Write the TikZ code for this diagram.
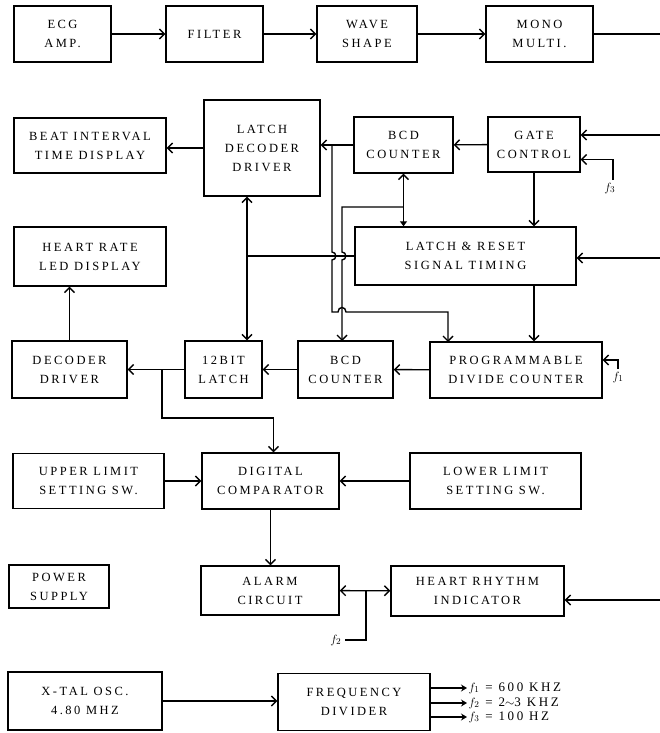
\documentclass[tikz,border=0pt]{standalone}
\usepackage{fontspec}
\newfontfamily\boxfont[LetterSpace=20]{Liberation Serif}
\usetikzlibrary{arrows.meta,positioning}

\begin{document}
\begin{tikzpicture}[x=1pt,y=-1pt,line width=1.4pt,
	blk/.style={draw,align=center,inner sep=0pt,font=\boxfont\fontsize{12.5}{19}\selectfont},
	lbl/.style={inner sep=1pt,font=\boxfont\fontsize{13}{15}\selectfont},
	>={Straight Barb[length=5pt,width=10pt]}]
%
	\useasboundingbox (0,0) rectangle (660,733);
	% row 1
	\node[blk,minimum width=97pt,minimum height=56pt] (ecg) at (62.5,34) {ECG\\AMP.};
	\node[blk,minimum width=97pt,minimum height=56pt] (filter) at (214.5,34) {FILTER};
	\node[blk,minimum width=100pt,minimum height=56pt] (wave) at (367,34) {WAVE\\SHAPE};
	\node[blk,minimum width=107pt,minimum height=56pt] (mono) at (539.5,34) {MONO\\MULTI.};
	\coordinate (monoOut) at (660,34);
	% counters and displays
	\node[blk,minimum width=152pt,minimum height=55pt] (beat) at (90,145.5) {BEAT INTERVAL\\TIME DISPLAY};
	\node[blk,minimum width=116pt,minimum height=96pt] (latchdec) at (262,148) {LATCH\\DECODER\\DRIVER};
	\node[blk,minimum width=99pt,minimum height=56pt] (bcdA) at (403.5,145) {BCD\\COUNTER};
	\node[blk,minimum width=92pt,minimum height=55pt] (gate) at (534,144.5) {GATE\\CONTROL};
	\node[blk,minimum width=152pt,minimum height=59pt] (heart) at (90,256.5) {HEART RATE\\LED DISPLAY};
	\node[blk,minimum width=221pt,minimum height=58pt] (lr) at (465.5,256) {LATCH \& RESET\\SIGNAL TIMING};
	\node[blk,minimum width=115pt,minimum height=57pt] (dec) at (69.5,369.5) {DECODER\\DRIVER};
	\node[blk,minimum width=77pt,minimum height=57pt] (latch12) at (223.5,369.5) {12BIT\\LATCH};
	\node[blk,minimum width=95pt,minimum height=57pt] (bcdB) at (345.5,369.5) {BCD\\COUNTER};
	\node[blk,minimum width=172pt,minimum height=56pt] (prog) at (516,370) {PROGRAMMABLE\\DIVIDE COUNTER};
	% limits and alarm
	\node[blk,minimum width=151pt,minimum height=55pt] (upper) at (88.5,481) {UPPER LIMIT\\SETTING SW.};
	\node[blk,minimum width=137pt,minimum height=56pt] (comp) at (270.5,481) {DIGITAL\\COMPARATOR};
	\node[blk,minimum width=171pt,minimum height=56pt] (lower) at (495.5,481) {LOWER LIMIT\\SETTING SW.};
	\node[blk,minimum width=100pt,minimum height=43pt] (power) at (59,586.5) {POWER\\SUPPLY};
	\node[blk,minimum width=138pt,minimum height=49pt] (alarm) at (270,590.5) {ALARM\\CIRCUIT};
	\node[blk,minimum width=173pt,minimum height=50pt] (rhythm) at (477.5,591) {HEART RHYTHM\\INDICATOR};
	% clock
	\node[blk,minimum width=154pt,minimum height=58pt] (xtal) at (85,701) {X-TAL OSC.\\4.80 MHZ};
	\node[blk,minimum width=152pt,minimum height=57pt] (freq) at (354,702) {FREQUENCY\\DIVIDER};
	% free ends
	\coordinate (gIn) at (660,135);
	\coordinate (gF) at (613,180);
	\coordinate (lrIn) at (660,258);
	\coordinate (pF) at (618,369);
	\coordinate (rIn) at (660,600);
	\coordinate (aF) at (345,640);
	\coordinate (j1) at (403.5,207);
	\coordinate (j2) at (247,256);
	\coordinate (j3) at (162,369.5);
	\coordinate (outA) at (467,688);
	\coordinate (outB) at (467,703);
	\coordinate (outC) at (467,717);
	% connectors
	\draw[->] (ecg) -- (filter);
	\draw[->] (filter) -- (wave);
	\draw[->] (wave) -- (mono);
	\draw (mono) -- (monoOut);
	\draw[->] (latchdec.west) -- (latchdec.west -| beat.east);
	\draw[->] (gate) -- (bcdA);
	\draw[->] (bcdA.west) -- (bcdA.west -| latchdec.east);
	\draw[->] (gIn) -- (gIn -| gate.east);
	\draw[->] (gF) |- ([yshift=-15pt]gate.east);
	\node[lbl,below left=1pt and -4pt of gF] (gFlab) {$f_3$};
	\draw[->] (gate.south) -- (gate.south |- lr.north);
	\draw[{Triangle[length=5pt,width=7pt]}-{Straight Barb[length=5pt,width=10pt]}] (bcdA.south |- lr.north) -- (bcdA.south);
	\draw[->] (j1) -- (342,207) -- (342,252) .. controls (347,252) and (347,260) .. (342,260) -- (342,341);
	\draw[->] (332,145) -- (332,252) .. controls (337,252) and (337,260) .. (332,260) -- (332,312)
		-- (338,312) .. controls (338,306) and (346,306) .. (346,312) -- (448,312) -- (448,342);
	\draw (lr.west) -- (j2);
	\draw[->] (j2) -- (j2 |- latchdec.south);
	\draw[->] (j2) -- (j2 |- latch12.north);
	\draw[->] (lrIn) -- (lrIn -| lr.east);
	\draw[->] (gate.south |- lr.south) -- (gate.south |- prog.north);
	\draw[->] (pF) |- ([yshift=10pt]prog.east);
	\node[lbl,below=1pt of pF] (pFlab) {$f_1$};
	\draw[->] (prog) -- (bcdB);
	\draw[->] (bcdB) -- (latch12);
	\draw[->] (latch12) -- (dec);
	\draw[->] (dec.north) -- (dec.north |- heart.south);
	\draw[->] (j3) -- (162,418) -| ([xshift=3pt]comp.north);
	\draw[->] (upper) -- (comp);
	\draw[->] (lower) -- (comp);
	\draw[->] (comp.south) -- (comp.south |- alarm.north);
	\draw[<->] (alarm) -- (rhythm);
	\draw (aF) -| (366,591);
	\node[lbl,left=2pt of aF] (aFlab) {$f_2$};
	\draw[->] (rIn) -- (rIn -| rhythm.east);
	\draw[->] (xtal.east) -- (xtal.east -| freq.west);
	\draw[-{Stealth[length=6pt,width=7pt]}] (freq.east |- outA) -- (outA);
	\draw[-{Stealth[length=6pt,width=7pt]}] (freq.east |- outB) -- (outB);
	\draw[-{Stealth[length=6pt,width=7pt]}] (freq.east |- outC) -- (outC);
	\node[lbl,right=0pt of outA] (f1lab) {$f_1$ = 600 KHZ};
	\node[lbl,right=0pt of outB] (f2lab) {$f_2$ = 2$\sim$3 KHZ};
	\node[lbl,right=0pt of outC] (f3lab) {$f_3$ = 100 HZ};
%
\end{tikzpicture}
\end{document}
